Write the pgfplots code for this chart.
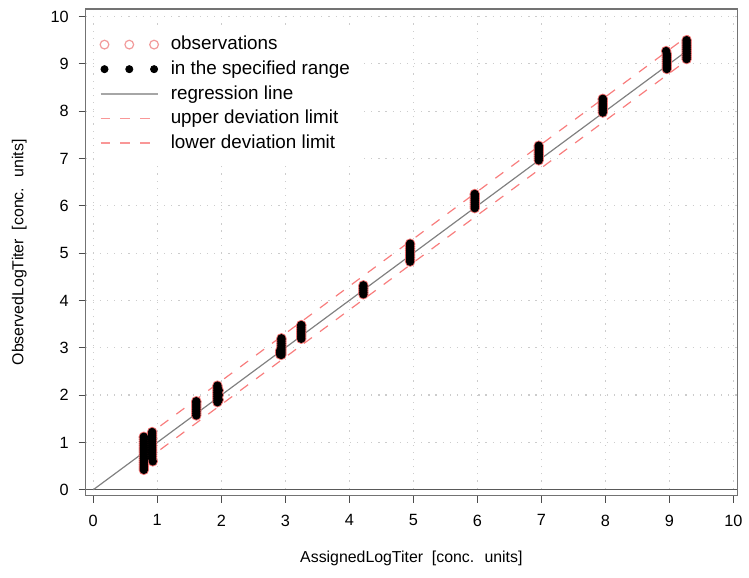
\documentclass[border=0pt]{standalone}
\usepackage{fontspec}
\setmainfont{Liberation Sans}
\usepackage{pgfplots}
\usepackage{pgfplotstable}
\pgfplotsset{compat=1.18}

\definecolor{obsred}{RGB}{236,110,110}
\definecolor{limred}{RGB}{248,125,125}

\pgfplotsset{
  threemarks/.style={legend image code/.code={%
    \draw[##1] plot coordinates {(0pt,0pt) (12.5pt,0pt) (25pt,0pt)};}},
  longline/.style={legend image code/.code={%
    \draw[##1] (-2pt,0pt) -- (27pt,0pt);}},
}

\pgfplotstableread{
x y
0.79 0.42
0.79 0.46
0.79 0.50
0.79 0.54
0.79 0.58
0.79 0.62
0.79 0.66
0.79 0.70
0.79 0.74
0.79 0.78
0.79 0.82
0.79 0.86
0.79 0.90
0.79 0.94
0.79 0.98
0.79 1.02
0.79 1.06
0.79 1.10
0.79 1.12
0.93 0.60
0.92 0.66
0.92 0.70
0.92 0.74
0.92 0.78
0.92 0.82
0.92 0.86
0.92 0.90
0.92 0.94
0.92 0.98
0.92 1.02
0.92 1.06
0.92 1.10
0.92 1.14
0.92 1.18
0.92 1.22
1.61 1.57
1.61 1.61
1.61 1.65
1.61 1.69
1.61 1.73
1.61 1.77
1.61 1.81
1.61 1.85
1.61 1.87
1.94 1.85
1.94 1.89
1.94 1.93
1.94 1.97
1.94 2.01
1.94 2.05
1.94 2.09
1.94 2.13
1.94 2.17
1.94 2.20
1.96 1.90
1.96 2.00
1.96 2.10
2.92 2.86
2.92 2.90
2.92 2.94
2.94 2.85
2.94 2.89
2.94 2.93
2.94 2.97
2.94 3.01
2.94 3.05
2.94 3.09
2.94 3.13
2.94 3.17
2.94 3.20
3.25 3.19
3.25 3.23
3.25 3.27
3.25 3.31
3.25 3.35
3.25 3.39
3.25 3.43
3.25 3.47
3.25 3.48
4.22 4.13
4.22 4.17
4.22 4.21
4.22 4.25
4.22 4.29
4.22 4.32
4.95 4.82
4.95 4.86
4.95 4.90
4.95 4.94
4.95 4.98
4.95 5.02
4.95 5.06
4.95 5.10
4.95 5.14
4.95 5.18
4.95 5.20
5.96 5.95
5.96 5.99
5.96 6.03
5.96 6.07
5.96 6.11
5.96 6.15
5.96 6.19
5.96 6.23
5.96 6.25
6.96 6.96
6.96 7.00
6.96 7.04
6.96 7.08
6.96 7.12
6.96 7.16
6.96 7.20
6.96 7.24
6.96 7.27
7.96 7.97
7.96 8.01
7.96 8.05
7.96 8.09
7.96 8.13
7.96 8.17
7.96 8.21
7.96 8.25
7.96 8.26
8.96 8.89
8.96 8.93
8.96 8.97
8.96 9.01
8.96 9.05
8.96 9.09
8.96 9.13
8.96 9.17
8.96 9.21
8.95 9.27
9.27 9.10
9.27 9.14
9.27 9.18
9.27 9.22
9.27 9.26
9.27 9.30
9.27 9.34
9.27 9.38
9.27 9.42
9.27 9.46
9.27 9.50
}\obsdata

\begin{document}
\begin{tikzpicture}
\begin{axis}[
    name=main,
    scale only axis,
    width=328.5pt, height=245.5pt,
    xmin=-0.12, xmax=10.06,
    ymin=-0.13, ymax=10.16,
    xtick={0,1,...,10}, ytick={0,1,...,10},
    xtick pos=bottom, ytick pos=left,
    tick align=outside,
    major tick length=3.5pt,
    tick style={black!70, line width=0.5pt},
    axis line style={black!55, line width=0.6pt},
    grid=major,
    major grid style={gray!40, line width=0.6pt, dash pattern=on 0.6pt off 3pt},
    /pgf/number format/assume math mode=true,
    tick label style={font=\fontsize{8.2}{10}\selectfont},
    xticklabel style={yshift=-2.5pt},
    yticklabel style={xshift=-1.5pt},
    label style={font=\fontsize{8}{9}\selectfont},
    xlabel={AssignedLogTiter \ [conc. \ units]},
    ylabel={ObservedLogTiter \ [conc. \ units]},
    xlabel style={inner ysep=6pt, yshift=-3pt},
    ylabel style={inner ysep=6pt, yshift=2.5pt},
    legend cell align=left,
    legend style={at={(0.012,0.965)}, anchor=north west, draw=none, fill=white,
        font=\fontsize{9.5}{11}\selectfont, row sep=0pt,
        inner xsep=3pt, inner ysep=3pt,
        /tikz/every odd column/.append style={column sep=4pt}},
  ]
  % horizontal reference at zero
  \addplot[black!65, line width=0.7pt, forget plot] coordinates {(-0.12,0) (10.06,0)};
  % regression line and deviation limits
  \addplot[gray, line width=0.6pt, forget plot] coordinates {(0,0) (9.3,9.3)};
  \addplot[limred, line width=0.6pt, dash pattern=on 5pt off 5pt, forget plot]
    coordinates {(0.8,1.1) (9.3,9.6)};
  \addplot[limred, line width=0.6pt, dash pattern=on 5pt off 5pt, forget plot]
    coordinates {(0.8,0.6) (9.3,9.1)};
  % observations and those in the specified range
  \addplot[only marks, mark=o, mark size=2.3pt, obsred, line width=0.6pt, forget plot]
    table[x=x, y=y] {\obsdata};
  \addplot[only marks, mark=*, mark size=1.9pt, black, forget plot]
    table[x=x, y=y] {\obsdata};

  \addlegendimage{threemarks, only marks, mark=o, mark size=2.2pt, obsred!70, line width=0.6pt}
  \addlegendentry{observations}
  \addlegendimage{threemarks, only marks, mark=*, mark size=1.8pt, black}
  \addlegendentry{in the specified range}
  \addlegendimage{longline, gray!70, line width=0.8pt}
  \addlegendentry{regression line}
  \addlegendimage{longline, limred!80, line width=0.8pt, dash pattern=on 5pt off 5pt}
  \addlegendentry{upper deviation limit}
  \addlegendimage{longline, limred!80, line width=0.8pt, dash pattern=on 5pt off 5pt}
  \addlegendentry{lower deviation limit}
\end{axis}
% a little white margin above the frame, as in the original
\path (main.north) ++(0pt,4.5pt);
\end{tikzpicture}
\end{document}
